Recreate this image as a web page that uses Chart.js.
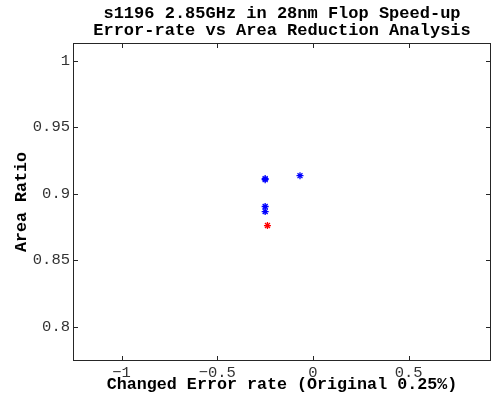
<!DOCTYPE html>
<html>
<head>
<meta charset="utf-8">
<script src="https://cdn.jsdelivr.net/npm/chart.js@4.4.0/dist/chart.umd.min.js"></script>
<style>
  body { margin: 0; background: #fff; }
  #wrap { width: 493px; height: 401px; }
</style>
</head>
<body>
<div id="wrap"><canvas id="areaChart"></canvas></div>
<script>
// values
const blueX = [-0.25, -0.25, -0.068, -0.25, -0.25];
const blueY = [0.9113, 0.9105, 0.9135, 0.8903, 0.8865];
const redX = [-0.238];
const redY = [0.876];

const xTickValues = [-1, -0.5, 0, 0.5];
const xTickLabels = ['\u22121', '\u22120.5', '0', '0.5'];
const yTickValues = [0.8, 0.85, 0.9, 0.95, 1];
const yTickLabels = ['0.8', '0.85', '0.9', '0.95', '1'];

const titleLines = ['s1196 2.85GHz in 28nm Flop Speed-up', 'Error-rate vs Area Reduction Analysis'];

const toPoints = (xs, ys) => xs.map((x, i) => ({ x: x, y: ys[i] }));

// MATLAB style box with inward ticks on all four sides
const boxPlugin = {
    id: 'box',
    afterDraw(chart) {
        const { ctx, chartArea: a, scales } = chart;
        ctx.save();
        ctx.strokeStyle = '#262626';
        ctx.lineWidth = 1;
        ctx.strokeRect(a.left + 0.5, a.top + 0.5, a.right - a.left - 1, a.bottom - a.top - 1);
        ctx.beginPath();
        xTickValues.forEach(v => {
            const px = Math.round(scales.x.getPixelForValue(v)) + 0.5;
            ctx.moveTo(px, a.bottom); ctx.lineTo(px, a.bottom - 5);
            ctx.moveTo(px, a.top); ctx.lineTo(px, a.top + 5);
        });
        yTickValues.forEach(v => {
            const py = Math.round(scales.y.getPixelForValue(v)) + 0.5;
            ctx.moveTo(a.left, py); ctx.lineTo(a.left + 5, py);
            ctx.moveTo(a.right, py); ctx.lineTo(a.right - 5, py);
        });
        ctx.stroke();
        ctx.restore();
    }
};

const ctx = document.getElementById('areaChart').getContext('2d');

new Chart(ctx, {
    type: 'scatter',
    data: {
        datasets: [{
            label: 'blue',
            data: toPoints(blueX, blueY),
            pointStyle: 'star',
            radius: 3.5,
            borderWidth: 1.3,
            borderColor: '#0000ff',
            backgroundColor: '#0000ff'
        }, {
            label: 'red',
            data: toPoints(redX, redY),
            pointStyle: 'star',
            radius: 3.5,
            borderWidth: 1.3,
            borderColor: '#ff0000',
            backgroundColor: '#ff0000'
        }]
    },
    options: {
        responsive: true,
        maintainAspectRatio: false,
        animation: false,
        layout: {
            autoPadding: false,
            padding: { top: 0, right: 2, left: 0, bottom: 0 }
        },
        scales: {
            x: {
                type: 'linear',
                min: -1.254,
                max: 0.93,
                afterFit: s => { s.height = 40; s.paddingLeft = 0; s.paddingRight = 0; },
                afterBuildTicks: s => { s.ticks = xTickValues.map(v => ({ value: v })); },
                grid: { display: false, drawTicks: false },
                border: { display: false },
                ticks: {
                    color: '#333',
                    padding: 3,
                    maxRotation: 0,
                    font: { family: 'Liberation Mono', size: 15.5 },
                    callback: (v, i) => xTickLabels[i]
                },
                title: {
                    display: true,
                    text: 'Changed Error rate (Original 0.25%)',
                    color: '#000',
                    padding: { top: 0, bottom: 6 },
                    font: { family: 'Liberation Mono', size: 16.7, weight: 'bold' }
                }
            },
            y: {
                min: 0.7741,
                max: 1.0133,
                afterFit: s => { s.width = 73; },
                afterBuildTicks: s => { s.ticks = yTickValues.map(v => ({ value: v })); },
                grid: { display: false, drawTicks: false },
                border: { display: false },
                ticks: {
                    color: '#333',
                    padding: 3,
                    font: { family: 'Liberation Mono', size: 15.5 },
                    callback: (v, i) => yTickLabels[i]
                },
                title: {
                    display: true,
                    text: 'Area Ratio',
                    color: '#000',
                    padding: { top: 12, bottom: 0 },
                    font: { family: 'Liberation Mono', size: 16.7, weight: 'bold' }
                }
            }
        },
        plugins: {
            legend: { display: false },
            tooltip: { enabled: false },
            title: {
                display: true,
                fullSize: false,
                text: titleLines,
                color: '#000',
                padding: { top: 5, bottom: 4 },
                font: { family: 'Liberation Mono', size: 17, weight: 'bold', lineHeight: 1 }
            }
        }
    },
    plugins: [boxPlugin]
});
</script>
</body>
</html>
